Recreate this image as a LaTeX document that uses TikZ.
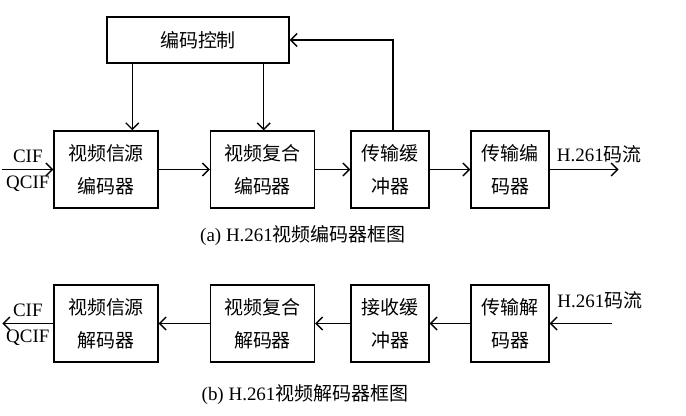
\documentclass[tikz,border=0pt]{standalone}
\usepackage{fontspec}
\setmainfont{Liberation Serif}
\newfontfamily\cjk{Noto Sans CJK SC}
\usetikzlibrary{arrows.meta,positioning}

\begin{document}
\begin{tikzpicture}
  [node distance=3.1cm,on grid,>={Straight Barb[length=1.3mm,width=2.6mm]},thick,
  every node/.style={font=\fontsize{10.8}{19}\selectfont},
  block/.style={draw,minimum width=2.08cm,minimum height=1.54cm,align=center,
    font=\cjk\fontsize{10.8}{19}\selectfont},
  small block/.style={block,minimum width=1.56cm}]
  \useasboundingbox (0,0) rectangle (13.72,-8.32);

  % encoder
  \node [block] (enc1) at (2.12,-3.39) {视频信源\\编码器};
  \node [block] (enc2) [right=3.13cm of enc1] {视频复合\\编码器};
  \node [small block] (buf) [right=2.55cm of enc2] {传输缓\\冲器};
  \node [small block] (tenc) [right=2.4cm of buf] {传输编\\码器};
  \node [block,minimum width=3.64cm,minimum height=0.92cm] (ctrl) at (3.96,-0.8) {编码控制};
  \coordinate [left=1.02cm of enc1.west] (in);
  \coordinate [right=1.38cm of tenc.east] (out);

  \draw [->] (in) -- node[above] {CIF} node[below] {QCIF} (enc1);
  \draw [->] (enc1) -- (enc2);
  \draw [->] (enc2) -- (buf);
  \draw [->] (buf) -- (tenc);
  \draw [->] (tenc) -- node[above,pos=0.72] {H.261{\cjk 码流}} (out);
  \draw [->] ([xshift=0.06cm]buf.north) |- (ctrl.east);
  \draw [->] ([xshift=5.2mm]ctrl.south west) -- ([xshift=5.2mm]ctrl.south west |- enc1.north);
  \draw [->] ([xshift=-5.2mm]ctrl.south east) -- ([xshift=-5.2mm]ctrl.south east |- enc2.north);
  \node (capa) at (6.06,-4.7) {(a) H.261{\cjk 视频编码器框图}};

  % decoder
  \node [block] (dec1) [below=3.08cm of enc1] {视频信源\\解码器};
  \node [block] (dec2) [below=3.08cm of enc2] {视频复合\\解码器};
  \node [small block] (rbuf) [below=3.08cm of buf] {接收缓\\冲器};
  \node [small block] (tdec) [below=3.08cm of tenc] {传输解\\码器};
  \coordinate [right=1.24cm of tdec.east] (din);
  \coordinate [left=1.02cm of dec1.west] (dout);

  \draw [->] (din) -- node[above=1.5mm,pos=0.19] {H.261{\cjk 码流}} (tdec);
  \draw [->] (tdec) -- (rbuf);
  \draw [->] (rbuf) -- (dec2);
  \draw [->] (dec2) -- (dec1);
  \draw [->] (dec1) -- node[above] {CIF} node[below] {QCIF} (dout);
  \node (capb) at (6.1,-7.9) {(b) H.261{\cjk 视频解码器框图}};
\end{tikzpicture}
\end{document}
